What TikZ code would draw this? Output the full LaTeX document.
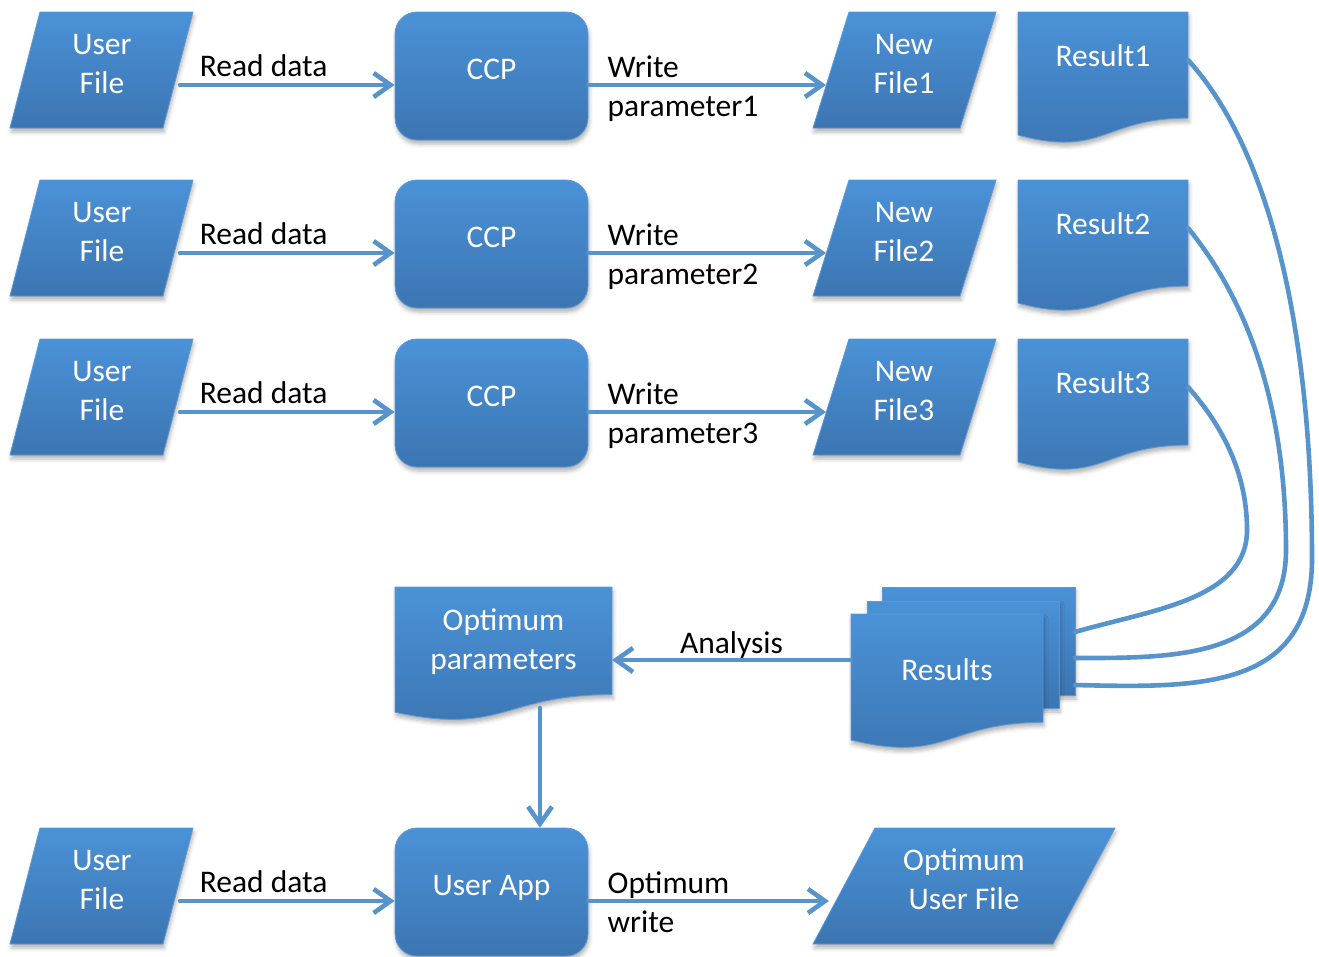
\documentclass[tikz,border=0pt]{standalone}
\usepackage{fontspec}
\setmainfont{Carlito}
\usetikzlibrary{arrows.meta,shadows.blur}
\definecolor{cTop}{RGB}{74,146,215}
\definecolor{cBot}{RGB}{60,117,178}
\definecolor{cEdge}{RGB}{92,152,212}
\definecolor{cLine}{RGB}{88,148,204}
\newcommand\diagfs{\fontsize{31.5}{39}\selectfont}
\begin{document}
\begin{tikzpicture}[x=1pt,y=-1pt,
  shp/.style={top color=cTop, bottom color=cBot, draw=cEdge, line width=0.8pt,
    blur shadow={shadow xshift=1pt, shadow yshift=-4pt, shadow opacity=30, shadow blur radius=4pt}},
  procbox/.style={shp, rectangle, rounded corners=22pt, minimum width=193pt, minimum height=128pt, inner sep=0pt},
  wtxt/.style={text=white, font=\diagfs, align=center, inner sep=0pt},
  btxt/.style={text=black, font=\diagfs, align=left, inner sep=0pt},
  conn/.style={draw=cLine, line width=4.6pt, line cap=round, line join=round},
  arr/.style={conn, -{Straight Barb[length=17pt,width=24pt]}}]
\useasboundingbox (0,0) rectangle (1319,956);

% ---- three CCP rows ----
\foreach \i/\y in {1/12,2/180,3/339}{
  \path[shp] (40,\y) -- (193,\y) -- (163,{\y+116}) -- (10,{\y+116}) -- cycle;
  \node[wtxt] (uf\i) at (102,{\y+51.5}) {User\\File};
  \node[procbox] (ccp\i) at (491.5,{\y+64}) {};
  \node[wtxt] (ccpt\i) at (491.5,{\y+57}) {CCP};
  \path[shp] (849,\y) -- (996,\y) -- (960,{\y+116}) -- (813,{\y+116}) -- cycle;
  \node[wtxt] (nf\i) at (904,{\y+51.5}) {New\\File\i};
  \path[shp] (1018,\y) -- (1188,\y) -- (1188,{\y+106})
     .. controls (1103,{\y+106}) and (1103,{\y+146}) .. (1018,{\y+123}) -- cycle;
  \node[wtxt] (res\i) at (1103,{\y+44}) {Result\i};
  \coordinate (ufo\i) at (180,{\y+73});
  \coordinate (nfi\i) at (826,{\y+73});
  \coordinate (reso\i) at (1188,{\y+48});
  \draw[arr] (ufo\i) -- (ufo\i -| ccp\i.west)
     node[btxt, pos=0.39, yshift=19pt] (rd\i) {Read data};
  \draw[arr] (ufo\i -| ccp\i.east) -- (nfi\i)
     node[btxt, pos=0, anchor=west, xshift=17pt, yshift=-3.5pt] (wp\i) {Write\\parameter\i};
}

% ---- optimum parameters ----
\path[shp] (395,587) -- (612,587) -- (612,694.5)
   .. controls (503.5,694.5) and (503.5,735.4) .. (395,712.2) -- cycle;
\node[wtxt] (opt) at (503.5,642) {Optimum\\parameters};
\coordinate (opr) at (612,660);
\coordinate (opb) at (540,708);

% ---- results (multi document) ----
\path[shp] (882,587) rectangle (1075,695);
\path[shp] (867,601) rectangle (1059,708);
\path[shp] (851,614) -- (1043,614) -- (1043,722.3)
   .. controls (947,722.3) and (947,763.5) .. (851,740) -- cycle;
\node[wtxt] (results) at (947,670) {Results};
\coordinate (resl) at (851,660);
\coordinate (mr1) at (1075,685);
\coordinate (mr2) at (1075,658);
\coordinate (mr3) at (1075,632);

% ---- bottom row ----
\path[shp] (40,828) -- (193,828) -- (163,944) -- (10,944) -- cycle;
\node[wtxt] (uf4) at (102,879.5) {User\\File};
\node[procbox] (ua) at (491.5,892) {};
\node[wtxt] (uat) at (491.5,888) {User App};
\path[shp] (875,828) -- (1115,828) -- (1053,944) -- (813,944) -- cycle;
\node[wtxt] (ouf) at (964,879) {Optimum\\User File};
\coordinate (ufo4) at (180,901);
\coordinate (oufi) at (829,901);

% ---- connectors ----
\draw[arr] (ufo4) -- (ufo4 -| ua.west)
   node[btxt, pos=0.39, yshift=19pt] (rd4) {Read data};
\draw[arr] (ufo4 -| ua.east) -- (oufi)
   node[btxt, pos=0, anchor=west, xshift=17pt, yshift=-1pt] (ow) {Optimum\\write};
\draw[arr] (resl) -- (opr) node[btxt, midway, yshift=15pt] (an) {Analysis};
\draw[arr] (opb) -- (opb |- ua.north);

\draw[conn] (reso1) .. controls (1270,150) and (1312,330) .. (1312,560)
   .. controls (1311,690) and (1200,688) .. (mr1);
\draw[conn] (reso2) .. controls (1255,310) and (1286,420) .. (1286,550)
   .. controls (1286,660) and (1170,658) .. (mr2);
\draw[conn] (reso3) .. controls (1235,440) and (1247,490) .. (1247,530)
   .. controls (1247,600) and (1150,610) .. (mr3);
\end{tikzpicture}
\end{document}
